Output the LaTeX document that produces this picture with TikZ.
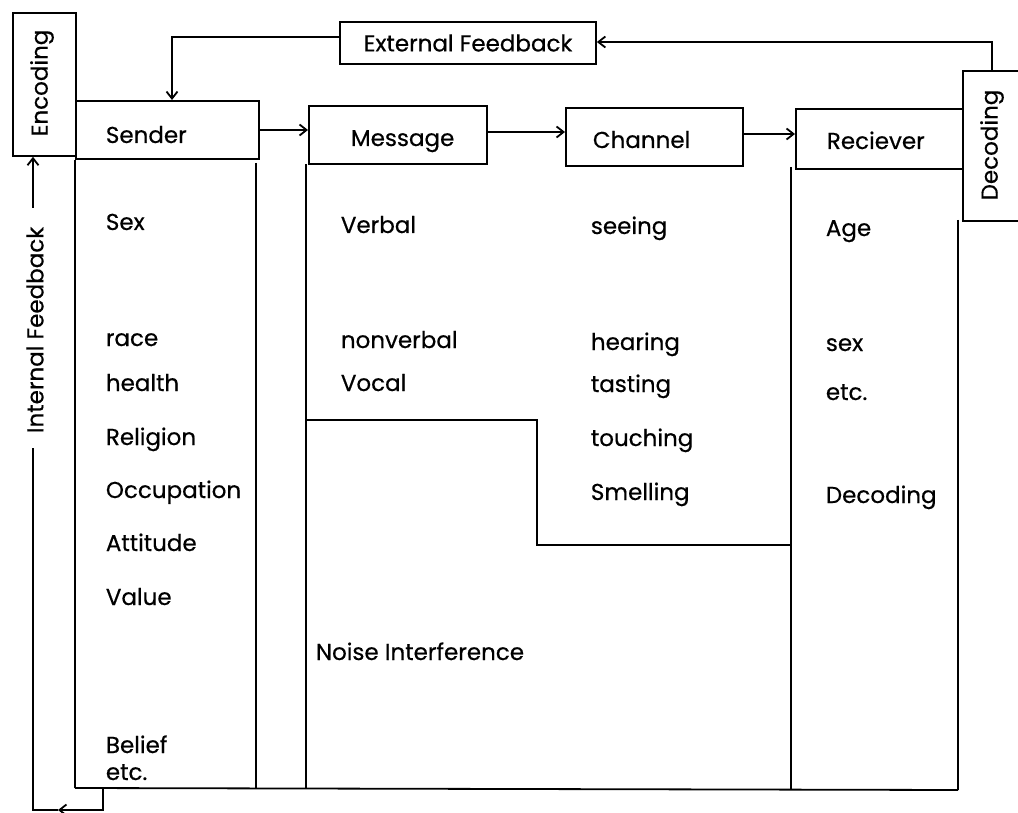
\documentclass[tikz,border=0pt]{standalone}
\usepackage{fontspec}
\setmainfont{Poppins}
\newfontfamily\lblfont{Poppins}[FakeBold=0.5]
\usetikzlibrary{arrows.meta}
\begin{document}
\begin{tikzpicture}[x=1pt,y=-1pt,
  line width=1.8pt,
  every node/.style={font=\lblfont\fontsize{23}{27}\selectfont},
  hdr/.style={draw,minimum height=58pt,inner sep=0pt,anchor=north west},
  lbl/.style={anchor=base west,inner sep=0pt},
  side/.style={draw,inner sep=0pt,anchor=north west},
  arr/.style={-{Straight Barb[length=7pt,width=11pt]}}
]
\useasboundingbox (0,0) rectangle (1018,813);
% header boxes
\node[hdr,minimum width=183pt] (sender) at (75,100) {};
\node[lbl] at (105,143) {Sender};
\node[hdr,minimum width=178pt] (message) at (308,105) {};
\node[lbl] at (350,146) {Message};
\node[hdr,minimum width=177pt] (channel) at (565,107) {};
\node[lbl] at (592,148) {Channel};
\node[hdr,minimum width=167pt,minimum height=60pt] (receiver) at (795,108) {};
\node[lbl] at (826,149) {Reciever};
% side boxes
\node[side,minimum width=63pt,minimum height=143pt] (encoding) at (12,12) {};
\node[rotate=90] at (42,83) {Encoding};
\node[side,minimum width=80pt,minimum height=150pt] (decoding) at (962,70) {};
\node[rotate=90] at (992,145) {Decoding};
\node[draw,inner sep=0pt,minimum width=256pt,minimum height=42pt] (extfb) at (468,43) {External Feedback};
% columns
\coordinate (sbl) at (75,788);
\coordinate (sbr) at (256,788);
\draw (sender.south west) -- (sbl);
\draw (256,163) -- (sbr);
\draw (306,164) -- (306,788);
\draw (791,167) -- (791,790);
\draw (958,220) -- (958,790);
\draw (sbl) -- (958,790);
% noise region boundary
\draw (306,420) -- (537,420) -- (537,545) -- (791,545);
% main flow arrows
\draw[arr] (sender.east |- 0,130) -- (message.west |- 0,130);
\draw[arr] (message.east |- 0,132) -- (channel.west |- 0,132);
\draw[arr] (channel.east |- 0,134) -- (receiver.west |- 0,134);
% external feedback
\coordinate (dtop) at (992,70);
\coordinate (dturn) at (992,42);
\draw[arr] (dtop) -- (dturn) -- (extfb.east |- dturn);
\coordinate (sturn) at (172,37);
\draw[arr] (extfb.west |- sturn) -- (sturn) -- (sturn |- sender.north);
% internal feedback
\coordinate (ib1) at (103,788);
\coordinate (ib2) at (103,810);
\coordinate (iarr) at (58,810);
\coordinate (ic) at (33,810);
\coordinate (igap1) at (33,448);
\coordinate (igap2) at (33,208);
\draw[arr] (ib1) -- (ib2) -- (iarr);
\draw (iarr) -- (ic) -- (igap1);
\draw[arr] (igap2) -- (igap2 |- encoding.south);
\node[rotate=90] at (35,330) {Internal Feedback};
% sender labels
\node[lbl] at (105,230) {Sex};
\node[lbl] at (105,346) {race};
\node[lbl] at (105,391) {health};
\node[lbl] at (105,445) {Religion};
\node[lbl] at (105,498) {Occupation};
\node[lbl] at (105,551) {Attitude};
\node[lbl] at (105,605) {Value};
\node[lbl] at (105,753) {Belief};
\node[lbl] at (105,780) {etc.};
% message labels
\node[lbl] at (340,233) {Verbal};
\node[lbl] at (340,348) {nonverbal};
\node[lbl] at (340,391) {Vocal};
% channel labels
\node[lbl] at (590,234) {seeing};
\node[lbl] at (590,350) {hearing};
\node[lbl] at (590,392) {tasting};
\node[lbl] at (590,446) {touching};
\node[lbl] at (590,500) {Smelling};
% receiver labels
\node[lbl] at (825,236) {Age};
\node[lbl] at (825,351) {sex};
\node[lbl] at (825,400) {etc.};
\node[lbl] at (825,503) {Decoding};
% noise
\node[lbl] at (315,660) {Noise Interference};
\end{tikzpicture}
\end{document}
